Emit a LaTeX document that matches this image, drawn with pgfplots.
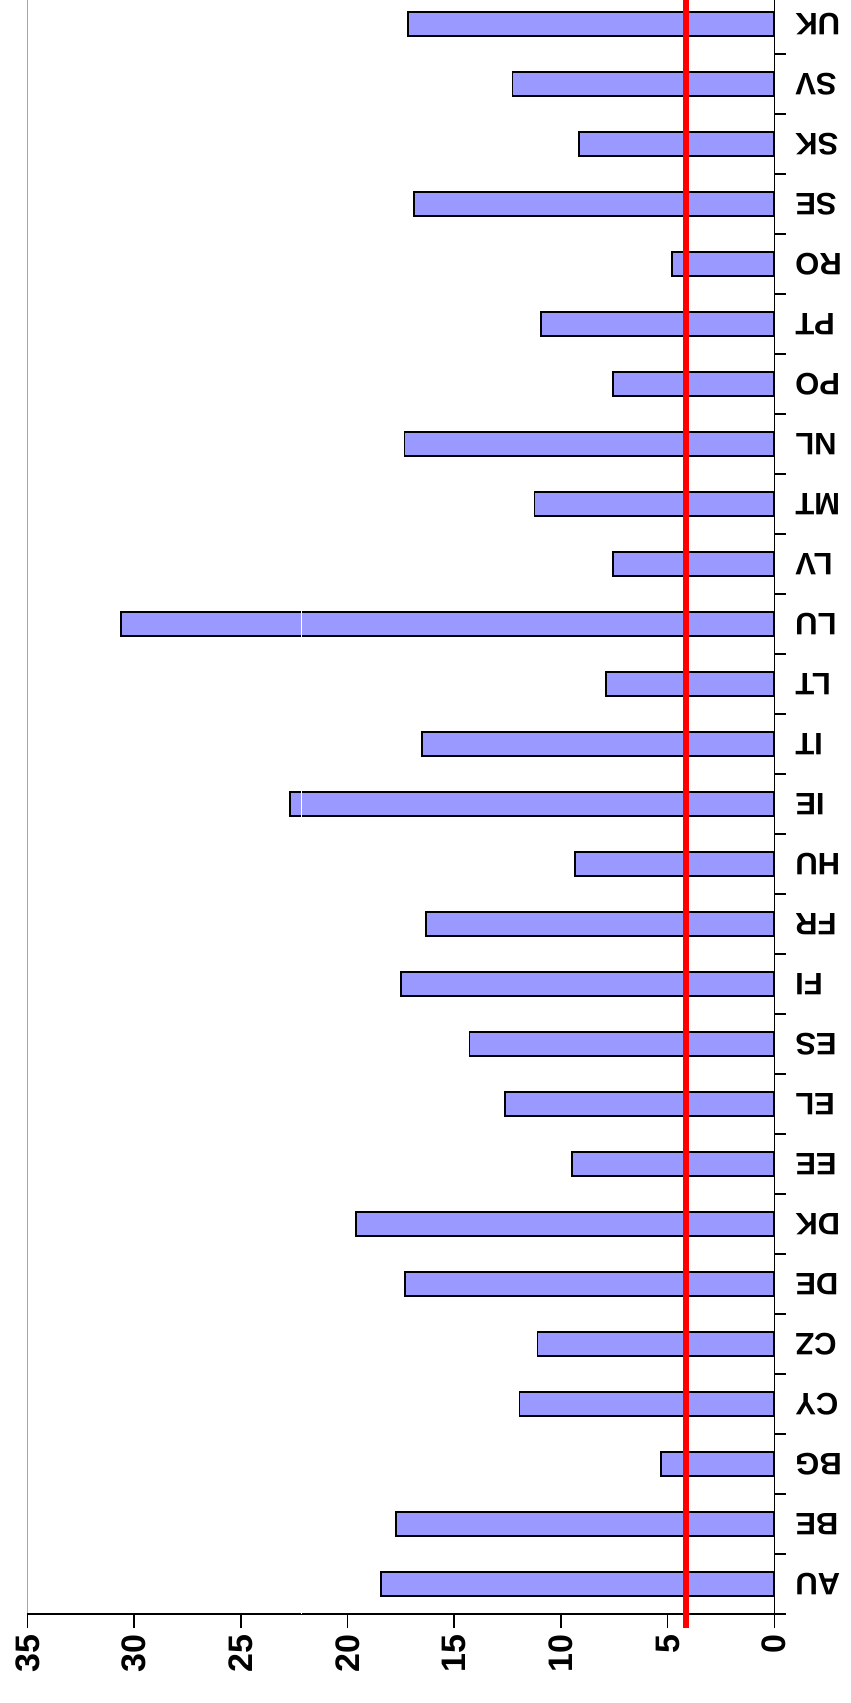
\documentclass[border=0pt]{standalone}
\usepackage{fontspec}
\setmainfont{Liberation Sans}
\usepackage{pgfplots}
\pgfplotsset{compat=1.18}
\usetikzlibrary{calc}
\definecolor{barfill}{HTML}{9999FF}
\begin{document}
\begin{tikzpicture}
\begin{axis}[
  scale only axis,
  width=373.45pt, height=807pt,
  x dir=reverse,
  xmin=0, xmax=35,
  ymin=-0.5, ymax=26.4,
  xtick={0,5,...,35},
  ytick={0,...,26},
  yticklabels={AU,BE,BG,CY,CZ,DE,DK,EE,EL,ES,FI,FR,HU,IE,IT,LT,LU,LV,MT,NL,PO,PT,RO,SE,SK,SV,UK},
  minor ytick={-0.5,0.5,...,25.5},
  tick align=outside,
  major tick length=7pt,
  minor tick length=6pt,
  every major y tick/.append style={draw=none},
  xtick pos=bottom,
  ytick pos=right,
  yticklabel pos=right,
  axis line style={draw=none},
  clip=false,
  tick style={black, line width=0.75pt},
  xticklabel style={rotate=90, anchor=east, font=\fontsize{17}{17}\selectfont\bfseries, /pgf/number format/assume math mode=true},
  yticklabel style={rotate=180, anchor=east, font=\fontsize{15.5}{16}\selectfont\bfseries},
]
\addplot[xbar, bar width=12pt, fill=barfill, draw=black, line width=0.8pt] coordinates {
(18.42,0) (17.74,1) (5.30,2) (11.94,3) (11.10,4) (17.30,5) (19.59,6) (9.49,7) (12.62,8) (14.29,9)
(17.49,10) (16.31,11) (9.34,12) (22.68,13) (16.50,14) (7.90,15) (30.62,16) (7.57,17) (11.24,18) (17.32,19)
(7.57,20) (10.93,21) (4.78,22) (16.89,23) (9.16,24) (12.27,25) (17.16,26)};
\draw[gray!70, line width=0.5pt] (axis cs:35,-0.5) -- (axis cs:35,26.4);
\draw[black, line width=0.75pt] (axis cs:35,-0.5) -- (axis cs:0,-0.5) -- (axis cs:0,26.4);
\addplot[white, line width=0.5pt, sharp plot, mark=none, forget plot] coordinates {(22.17,-0.5) (22.17,26.4)};
\addplot[red, line width=3pt, sharp plot, mark=none] coordinates {(4.12,-0.74) (4.12,26.4)};
\coordinate (P35) at (axis cs:35,-0.5);
\coordinate (Ptop) at (axis cs:0,26.4);
\end{axis}
\pgfresetboundingbox
\path ($(P35)+(-13.7pt,-44.5pt)$) rectangle ($(P35 |- Ptop)+(411.8pt,0)$);
\end{tikzpicture}
\end{document}
